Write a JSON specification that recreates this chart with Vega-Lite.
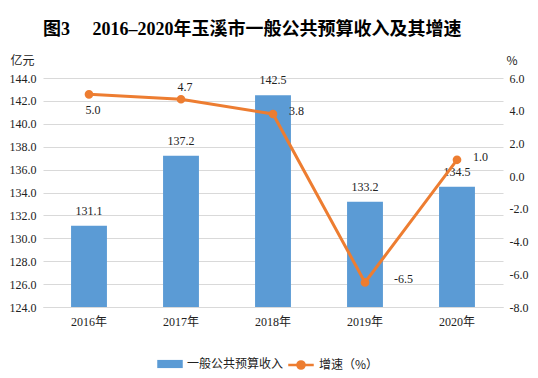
{
  "$schema": "https://vega.github.io/schema/vega-lite/v6.json",
  "width": 460,
  "height": 229,
  "autosize": {"type": "none"},
  "padding": {"left": 43, "top": 78, "right": 35, "bottom": 71},
  "background": "white",
  "title": {
    "text": "图3　  2016–2020年玉溪市一般公共预算收入及其增速",
    "font": "Liberation Serif, Noto Sans CJK SC",
    "fontSize": 18,
    "fontWeight": "bold",
    "color": "#000000",
    "anchor": "start",
    "frame": "group",
    "offset": 15
  },
  "config": {
    "view": {"stroke": null},
    "axis": {
      "labelFont": "Liberation Serif, Noto Sans CJK SC",
      "labelFontSize": 12,
      "labelColor": "#222222",
      "labelOverlap": false,
      "ticks": false,
      "domain": false,
      "titleFont": "Noto Sans CJK SC",
      "titleFontSize": 12,
      "titleFontWeight": "normal",
      "titleColor": "#222222"
    },
    "legend": {
      "labelFont": "Noto Sans CJK SC",
      "labelFontSize": 12,
      "labelColor": "#222222"
    }
  },
  "data": {
    "values": [
      {"year": "2016年", "revenue": 131.1, "growth": 5.0},
      {"year": "2017年", "revenue": 137.2, "growth": 4.7},
      {"year": "2018年", "revenue": 142.5, "growth": 3.8},
      {"year": "2019年", "revenue": 133.2, "growth": -6.5},
      {"year": "2020年", "revenue": 134.5, "growth": 1.0}
    ]
  },
  "encoding": {
    "x": {
      "field": "year",
      "type": "ordinal",
      "scale": {"paddingInner": 0.61, "paddingOuter": 0.305},
      "axis": {
        "title": null,
        "labelAngle": 0,
        "labelPadding": 9,
        "labelOverlap": false,
        "domain": true,
        "domainColor": "#D9D9D9",
        "domainWidth": 1
      }
    }
  },
  "layer": [
    {
      "layer": [
        {
          "mark": {"type": "bar", "color": "#5B9BD5"},
          "encoding": {
            "y": {
              "field": "revenue",
              "type": "quantitative",
              "scale": {"domain": [124, 144], "zero": false, "nice": false},
              "axis": {
                "values": [124, 126, 128, 130, 132, 134, 136, 138, 140, 142, 144],
                "tickCount": 11,
                "format": ".1f",
                "labelOverlap": false,
                "grid": true,
                "gridColor": "#D9D9D9",
                "labelPadding": 7,
                "title": "亿元",
                "titleAngle": 0,
                "titleX": -33,
                "titleY": -18,
                "titleAlign": "left",
                "titleBaseline": "middle"
              }
            },
            "y2": {"datum": 124},
            "fill": {
              "datum": "一般公共预算收入",
              "type": "nominal",
              "scale": {"range": ["#5B9BD5"]},
              "legend": {
                "title": null,
                "orient": "none",
                "legendX": 114,
                "legendY": 273,
                "symbolType": "M-1,-0.32H1V0.32H-1Z",
                "symbolSize": 650,
                "symbolStrokeWidth": 0
              }
            }
          }
        },
        {
          "mark": {
            "type": "text",
            "baseline": "bottom",
            "dy": -8,
            "font": "Liberation Serif",
            "fontSize": 12,
            "color": "#222222"
          },
          "encoding": {
            "y": {"field": "revenue", "type": "quantitative"},
            "text": {"field": "revenue", "type": "quantitative", "format": ".1f"}
          }
        }
      ]
    },
    {
      "layer": [
        {
          "mark": {
            "type": "line",
            "color": "#ED7D31",
            "strokeWidth": 3,
            "point": {"filled": true, "size": 45, "color": "#ED7D31"}
          },
          "encoding": {
            "y": {
              "field": "growth",
              "type": "quantitative",
              "scale": {"domain": [-8, 6], "nice": false},
              "axis": {
                "orient": "right",
                "values": [-8, -6, -4, -2, 0, 2, 4, 6],
                "tickCount": 8,
                "labelExpr": "replace(format(datum.value, '.1f'), '−', '-')",
                "labelOverlap": false,
                "grid": false,
                "labelPadding": 6,
                "title": "%",
                "titleAngle": 0,
                "titleX": 3,
                "titleY": -18,
                "titleAlign": "left",
                "titleBaseline": "middle"
              }
            },
            "stroke": {
              "datum": "增速（%）",
              "type": "nominal",
              "scale": {"range": ["#ED7D31"]},
              "legend": {
                "title": null,
                "orient": "none",
                "legendX": 244,
                "legendY": 273,
                "symbolType": "M-1,0H1M-0.28,0A0.28,0.28 0 1,1 0.28,0A0.28,0.28 0 1,1 -0.28,0Z",
                "symbolSize": 650,
                "symbolStrokeWidth": 2.5,
                "symbolFillColor": "#ED7D31"
              }
            }
          }
        },
        {
          "transform": [{"filter": "datum.year === '2016年'"}],
          "mark": {"type": "text", "baseline": "top", "dy": 11, "dx": 4, "font": "Liberation Serif", "fontSize": 12, "color": "#222222", "text": {"expr": "replace(format(datum.growth, '.1f'), '−', '-')"}},
          "encoding": {
            "y": {"field": "growth", "type": "quantitative"}
          }
        },
        {
          "transform": [{"filter": "datum.year === '2017年'"}],
          "mark": {"type": "text", "baseline": "bottom", "dy": -5, "dx": 4, "font": "Liberation Serif", "fontSize": 12, "color": "#222222", "text": {"expr": "replace(format(datum.growth, '.1f'), '−', '-')"}},
          "encoding": {
            "y": {"field": "growth", "type": "quantitative"}
          }
        },
        {
          "transform": [{"filter": "datum.year === '2018年' || datum.year === '2020年'"}],
          "mark": {"type": "text", "align": "left", "baseline": "middle", "dx": 16, "dy": -3, "font": "Liberation Serif", "fontSize": 12, "color": "#222222", "text": {"expr": "replace(format(datum.growth, '.1f'), '−', '-')"}},
          "encoding": {
            "y": {"field": "growth", "type": "quantitative"}
          }
        },
        {
          "transform": [{"filter": "datum.year === '2019年'"}],
          "mark": {"type": "text", "align": "left", "baseline": "middle", "dx": 29, "dy": -3, "font": "Liberation Serif", "fontSize": 12, "color": "#222222", "text": {"expr": "replace(format(datum.growth, '.1f'), '−', '-')"}},
          "encoding": {
            "y": {"field": "growth", "type": "quantitative"}
          }
        }
      ]
    }
  ],
  "resolve": {"scale": {"y": "independent"}}
}
